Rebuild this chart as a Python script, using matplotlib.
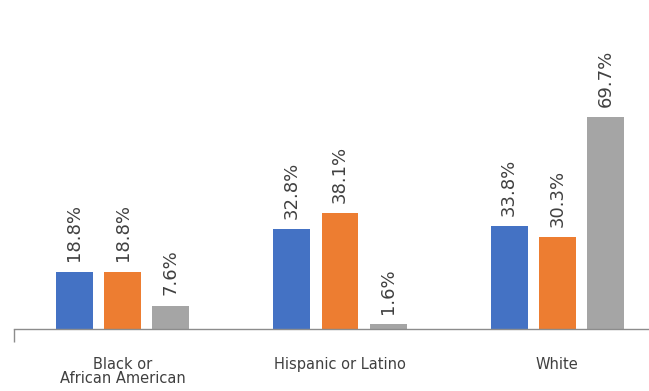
import matplotlib
matplotlib.use("Agg")
import matplotlib.pyplot as plt
import numpy as np

categories = ["Black or\nAfrican American", "Hispanic or Latino", "White"]
series_a = [18.8, 32.8, 33.8]   # blue
series_b = [18.8, 38.1, 30.3]   # orange
series_c = [7.6, 1.6, 69.7]     # gray
value_labels_a = ["18.8%", "32.8%", "33.8%"]
value_labels_b = ["18.8%", "38.1%", "30.3%"]
value_labels_c = ["7.6%", "1.6%", "69.7%"]

colors = ["#4472C4", "#ED7D31", "#A5A5A5"]

W, H = 649, 391
fig = plt.figure(figsize=(W / 100, H / 100), dpi=100)
ax = fig.add_axes([14 / W, 62 / H, 652 / W, 243 / H])
ax.set_xlim(-0.5, 2.5)
ax.set_ylim(0, 80)

x = np.arange(len(categories))
bw = 0.17
off = 0.222
text_color = "#404040"
for i, (vals, labs) in enumerate([(series_a, value_labels_a),
                                  (series_b, value_labels_b),
                                  (series_c, value_labels_c)]):
    xs = x + (i - 1) * off
    ax.bar(xs, vals, width=bw, color=colors[i], zorder=2)
    for xi, v, lab in zip(xs, vals, labs):
        ax.annotate(lab, (xi, v), xytext=(0, 7.5), textcoords="offset points",
                    rotation=90, ha="center", va="bottom", fontsize=13,
                    color=text_color)

for s in ["top", "right", "left"]:
    ax.spines[s].set_visible(False)
ax.spines["bottom"].set_color("#8c8c8c")
ax.spines["bottom"].set_linewidth(1.0)
ax.set_yticks([])
ax.set_xticks(x)
ax.set_xticklabels(categories, fontsize=10.5, color=text_color, linespacing=0.95)
ax.tick_params(axis="x", which="major", length=0, pad=20)
ax.set_xticks([-0.5], minor=True)
ax.tick_params(axis="x", which="minor", length=9.5, color="#8c8c8c", width=1.0)

fig.savefig("out.png", dpi=100)
